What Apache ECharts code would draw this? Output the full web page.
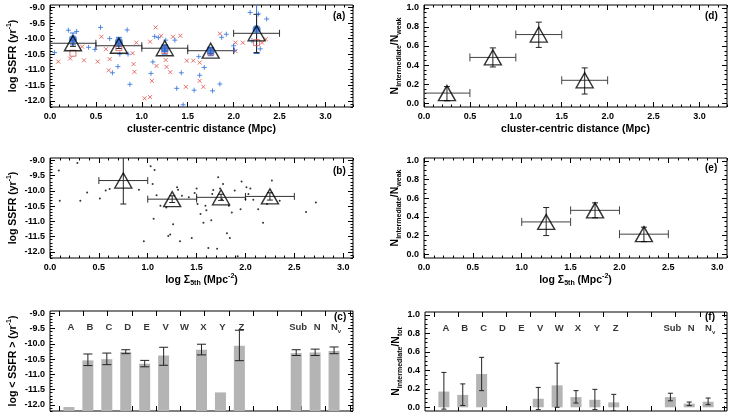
<!DOCTYPE html>
<html>
<head>
<meta charset="utf-8">
<script src="https://cdn.jsdelivr.net/npm/echarts@6/dist/echarts.min.js"></script>
<style>
html, body { margin: 0; padding: 0; background: #fff; }
#chart { width: 732px; height: 416px; }
</style>
</head>
<body>
<div id="chart"></div>
<script>
// ---- panel (a): SSFR vs cluster-centric distance ----
const aBluePts = [[0.05,-10.45],[0.2,-9.73],[0.29,-9.77],[0.42,-10.28],[0.49,-10.35],[0.55,-9.64],[0.65,-10.0],
  [0.68,-11.1],[0.74,-10.9],[0.76,-10.5],[0.84,-9.72],[0.85,-10.5],[0.87,-11.47],[1.10,-11.12],[1.12,-10.75],
  [1.14,-9.93],[1.18,-9.97],[1.26,-10.05],[1.36,-10.05],[1.38,-11.6],[1.43,-11.1],[1.45,-12.13],[1.57,-11.66],
  [1.62,-10.58],[1.63,-11.18],[1.68,-10.93],[1.77,-11.68],[1.85,-11.46],[1.87,-9.96],[1.92,-9.86],[2.0,-10.23],
  [2.01,-10.38],[2.18,-9.16],[2.2,-10.07],[2.27,-9.21],[2.29,-10.33],[2.36,-9.37]];
const aRedPts = [[0.09,-10.74],[0.22,-10.64],[0.35,-10.26],[0.37,-10.7],[0.52,-10.74],[0.56,-9.94],[0.61,-10.34],
  [0.64,-11.02],[0.65,-10.66],[0.9,-10.47],[0.91,-10.82],[0.92,-11.07],[0.94,-10.13],[1.03,-11.92],[1.09,-11.88],
  [1.09,-10.1],[1.11,-11.36],[1.15,-9.64],[1.16,-10.88],[1.21,-9.91],[1.26,-10.69],[1.27,-10.91],[1.31,-11.08],
  [1.34,-9.94],[1.42,-9.91],[1.48,-11.55],[1.49,-10.71],[1.56,-10.71],[1.63,-10.77],[1.63,-11.36],[1.67,-11.55],
  [1.85,-9.84],[2.02,-10.13],[2.02,-10.4],[2.1,-10.13],[2.31,-10.13],[2.35,-10.02]];
const aBins = [0.25, 0.75, 1.25, 1.75, 2.25];
const aBinLo = [0.0, 0.5, 1.0, 1.5, 2.0];
const aBinHi = [0.5, 1.0, 1.5, 2.0, 2.5];
const aBlueMean = [-10.02, -10.1, -10.33, -10.4, -9.7];
const aBlueLo = [-10.2, -10.25, -10.5, -10.55, -10.48];
const aBlueHi = [-9.82, -9.96, -10.2, -10.28, -8.9];
const aRedMean = [-10.47, -10.29, -10.38, -10.43, -10.13];
const aTriMean = [-10.15, -10.23, -10.31, -10.39, -9.83];
const aTriLo = [-10.25, -10.32, -10.4, -10.48, -10.45];
const aTriHi = [-10.05, -10.14, -10.22, -10.3, -9.22];

// ---- panel (b): SSFR vs local density ----
const bPts = [[0.09,-9.33],[0.28,-9.08],[0.10,-10.32],[0.31,-10.32],[0.38,-10.05],[0.51,-10.25],[0.57,-9.99],
  [0.61,-9.94],[0.91,-9.96],[0.96,-11.65],[1.03,-9.19],[1.07,-9.31],[1.05,-9.77],[1.06,-10.91],[1.09,-10.14],
  [1.13,-10.49],[1.19,-10.54],[1.21,-11.48],[1.23,-11.43],[1.26,-11.09],[1.30,-9.88],[1.31,-9.96],[1.33,-11.65],
  [1.35,-10.16],[1.42,-10.21],[1.45,-11.54],[1.48,-10.07],[1.50,-9.92],[1.51,-10.43],[1.54,-10.76],[1.57,-11.04],
  [1.59,-10.49],[1.60,-10.63],[1.62,-11.87],[1.65,-10.96],[1.66,-10.1],[1.67,-9.97],[1.71,-11.9],[1.72,-9.55],
  [1.74,-9.92],[1.76,-10.27],[1.77,-9.77],[1.81,-11.39],[1.83,-10.49],[1.84,-11.54],[1.86,-10.71],[1.89,-9.99],
  [1.92,-12.14],[1.95,-10.6],[1.96,-9.69],[2.0,-10.27],[2.01,-9.88],[2.03,-10.1],[2.05,-9.92],[2.08,-10.29],
  [2.13,-10.6],[2.18,-11.04],[2.22,-10.43],[2.27,-9.66],[2.35,-10.32],[2.62,-10.69],[2.72,-10.38]];
const bBins = [0.75, 1.25, 1.75, 2.25];
const bBinLo = [0.5, 1.0, 1.5, 2.0];
const bBinHi = [1.0, 1.5, 2.0, 2.5];
const bMean = [-9.66, -10.27, -10.21, -10.18];
const bLo = [-10.43, -10.38, -10.31, -10.3];
const bHi = [-8.9, -10.16, -10.11, -10.06];

// ---- panel (c): mean SSFR per structure ----
const cNames = ['A','B','C','D','E','V','W','X','Y','Z','Sub','N','Nv'];
const cPos = [0,1,2,3,4,5,6,7,8,9,12,13,14];
const cMean = [-12.07,-10.54,-10.5,-10.26,-10.65,-10.38,null,-10.19,-11.59,-10.06,-10.3,-10.28,-10.23];
const cLo = [null,-10.71,-10.68,-10.32,-10.75,-10.7,null,-10.36,null,-10.55,-10.38,-10.38,-10.32];
const cHi = [null,-10.33,-10.3,-10.19,-10.54,-10.11,null,-10.01,null,-9.55,-10.19,-10.17,-10.1];

// ---- panel (d): fraction vs distance ----
const dBins = [0.25, 0.75, 1.25, 1.75];
const dBinLo = [0.0, 0.5, 1.0, 1.5];
const dBinHi = [0.5, 1.0, 1.5, 2.0];
const dFrac = [0.106, 0.48, 0.72, 0.24];
const dLo = [0.025, 0.38, 0.585, 0.096];
const dHi = [0.174, 0.58, 0.85, 0.37];

// ---- panel (e): fraction vs density ----
const eBins = [1.25, 1.75, 2.25];
const eBinLo = [1.0, 1.5, 2.0];
const eBinHi = [1.5, 2.0, 2.5];
const eFrac = [0.346, 0.47, 0.215];
const eLo = [0.2, 0.39, 0.135];
const eHi = [0.5, 0.55, 0.29];

// ---- panel (f): fraction per structure ----
const fMean = [0.17,0.134,0.36,null,null,0.092,0.237,0.11,0.081,0.053,0.11,0.039,0.06];
const fLo = [-0.02,0.02,0.18,null,null,-0.025,0.0,0.046,-0.025,-0.04,0.07,0.018,0.028];
const fHi = [0.377,0.253,0.54,null,null,0.215,0.477,0.18,0.194,0.14,0.152,0.057,0.1];

// tick labels
const ssfrTicks = [-12.0,-11.5,-11.0,-10.5,-10.0,-9.5,-9.0];
const fracTicks = [0.0,0.2,0.4,0.6,0.8,1.0];
const xTicks = [0.0,0.5,1.0,1.5,2.0,2.5,3.0];

const FONT = 'Liberation Sans';
const BLUE = '#2f6fdc', RED = '#e0504a', BAR = '#b4b4b4';

function steps(from, to, step) {
  const out = [];
  for (let v = from; v <= to + 1e-9; v += step) out.push(Math.round(v * 1000) / 1000);
  return out;
}

const grids = [
  {left: 50, top: 5, width: 303, height: 102},
  {left: 50, top: 158, width: 303, height: 100},
  {left: 50, top: 311, width: 303, height: 100},
  {left: 424, top: 5, width: 303, height: 102},
  {left: 424, top: 158, width: 303, height: 100},
  {left: 425, top: 312, width: 302, height: 99}
].map(g => Object.assign(g, {show: true, borderColor: '#000', borderWidth: 1, backgroundColor: 'transparent'}));

const xAxis = [], yAxis = [];
const labStyle = {fontFamily: FONT, fontWeight: 'bold', fontSize: 9, color: '#000'};
const nameStyle = {
  fontFamily: FONT, fontWeight: 'bold', fontSize: 10.5, color: '#000', lineHeight: 14,
  rich: {
    sup: {fontFamily: FONT, fontWeight: 'bold', fontSize: 7, verticalAlign: 'top', lineHeight: 14},
    sub: {fontFamily: FONT, fontWeight: 'bold', fontSize: 7, verticalAlign: 'bottom', lineHeight: 14}
  }
};

function tickAxis(isX, g, c, pos, ticks, len, labels) {
  const ax = {
    gridIndex: g, type: 'value', min: c.min, max: c.max, position: pos,
    axisLine: {show: false, onZero: false}, splitLine: {show: false},
    axisTick: {show: true, inside: true, length: len, customValues: ticks, lineStyle: {color: '#000', width: 1}},
    axisLabel: {show: false}
  };
  if (labels) {
    ax.axisLabel = Object.assign({show: true, customValues: labels, margin: 5,
      formatter: v => v.toFixed(1)}, labStyle);
    if (c.name) {
      ax.name = c.name;
      ax.nameLocation = 'middle';
      ax.nameGap = c.nameGap;
      ax.nameTextStyle = nameStyle;
      if (!isX) ax.nameRotate = 90;
    }
  }
  (isX ? xAxis : yAxis).push(ax);
  return (isX ? xAxis : yAxis).length - 1;
}

// returns [xIndex, yIndex] of the labelled axes for grid g
function addAxes(g, xc, yc) {
  const xi = tickAxis(true, g, xc, 'bottom', xc.major, 5, xc.labels);
  tickAxis(true, g, xc, 'top', xc.major, 5, null);
  if (xc.minor) {
    tickAxis(true, g, xc, 'bottom', xc.minor, 2.5, null);
    tickAxis(true, g, xc, 'top', xc.minor, 2.5, null);
  }
  const yi = tickAxis(false, g, yc, 'left', yc.major, 5, yc.major);
  tickAxis(false, g, yc, 'right', yc.major, 5, null);
  tickAxis(false, g, yc, 'left', yc.minor, 2.5, null);
  tickAxis(false, g, yc, 'right', yc.minor, 2.5, null);
  return [xi, yi];
}

const ssfrName = 'log SSFR (yr{sup|-1})';
const distName = 'cluster-centric distance (Mpc)';
const sigName = 'log Σ{sub|5th} (Mpc{sup|-2})';
const weakName = 'N{sub|intermediate}/N{sub|weak}';
const ySsfr = (name) => ({min: -12.2, max: -8.92, major: ssfrTicks, minor: steps(-12.2, -8.92, 0.1), name: name, nameGap: 30});
const yFrac = (name) => ({min: -0.04, max: 1.03, major: fracTicks, minor: steps(0, 1.03, 0.05), name: name, nameGap: 20});
const xDist = (max, name, gap) => ({min: 0, max: max, major: xTicks, minor: steps(0, max, 0.1), labels: xTicks, name: name, nameGap: gap});
const structTicks = steps(0, 12, 1).map(k => Math.round((-0.52 + 1.28 * k) * 100) / 100);
const xStruct = {min: -1, max: 15, major: structTicks, labels: null};

const axA = addAxes(0, xDist(3.3, distName, 14), ySsfr(ssfrName));
const axB = addAxes(1, xDist(3.1, sigName, 13), ySsfr(ssfrName));
const axC = addAxes(2, xStruct, ySsfr('log < SSFR > (yr{sup|-1})'));
const axD = addAxes(3, xDist(3.3, distName, 14), yFrac(weakName));
const axE = addAxes(4, xDist(3.1, sigName, 13), yFrac(weakName));
const axF = addAxes(5, xStruct, yFrac('N{sub|intermediate}/N{sub|tot}'));

// ---- custom renderers ----
function vErr(color, cap, lw) {
  return function (params, api) {
    const x = api.value(0);
    const p1 = api.coord([x, api.value(1)]), p2 = api.coord([x, api.value(2)]);
    const st = {stroke: color, lineWidth: lw};
    return {type: 'group', children: [
      {type: 'line', shape: {x1: p1[0], y1: p1[1], x2: p2[0], y2: p2[1]}, style: st},
      {type: 'line', shape: {x1: p1[0] - cap, y1: p1[1], x2: p1[0] + cap, y2: p1[1]}, style: st},
      {type: 'line', shape: {x1: p2[0] - cap, y1: p2[1], x2: p2[0] + cap, y2: p2[1]}, style: st}
    ]};
  };
}
function hErr(color, cap, lw) {
  return function (params, api) {
    const y = api.value(2);
    const p1 = api.coord([api.value(0), y]), p2 = api.coord([api.value(1), y]);
    const st = {stroke: color, lineWidth: lw};
    return {type: 'group', children: [
      {type: 'line', shape: {x1: p1[0], y1: p1[1], x2: p2[0], y2: p2[1]}, style: st},
      {type: 'line', shape: {x1: p1[0], y1: p1[1] - cap, x2: p1[0], y2: p1[1] + cap}, style: st},
      {type: 'line', shape: {x1: p2[0], y1: p2[1] - cap, x2: p2[0], y2: p2[1] + cap}, style: st}
    ]};
  };
}
function barRect(base, w) {
  return function (params, api) {
    const x = api.value(0);
    const top = api.coord([x, api.value(1)]), bot = api.coord([x, base]);
    return {type: 'rect', shape: {x: top[0] - w / 2, y: top[1], width: w, height: bot[1] - top[1]},
      style: {fill: BAR}};
  };
}

const zip3 = (a, b, c) => a.map((v, i) => [v, b[i], c[i]]);
const PLUS = 'path://M5,0L5,10M0,5L10,5';
const CROSS = 'path://M0,0L10,10M10,0L0,10';

function onAxes(ax, s) { return Object.assign({xAxisIndex: ax[0], yAxisIndex: ax[1]}, s); }
function custom(ax, fn, data) {
  return onAxes(ax, {type: 'custom', renderItem: fn, data: data, clip: true, silent: true});
}
function tri(ax, xs, ys, size) {
  return onAxes(ax, {type: 'scatter', symbol: 'triangle', symbolSize: size, data: xs.map((x, i) => [x, ys[i]]),
    itemStyle: {color: 'transparent', borderColor: '#000', borderWidth: 1.4}, z: 5});
}
function labels(ax, yv) {
  return onAxes(ax, {type: 'scatter', symbolSize: 1, itemStyle: {color: 'transparent'},
    data: cPos.map(p => [p, yv]),
    label: {show: true, position: 'inside', offset: [2, 0],
      formatter: p => cNames[p.dataIndex] === 'Nv' ? 'N{s|v}' : cNames[p.dataIndex],
      fontFamily: FONT, fontWeight: 'bold', fontSize: 9.5, color: '#000',
      rich: {s: {fontFamily: FONT, fontWeight: 'bold', fontSize: 6, verticalAlign: 'bottom', lineHeight: 14}}}});
}

const series = [
  // (a)
  onAxes(axA, {type: 'scatter', symbol: CROSS, symbolSize: 4, data: aRedPts,
    itemStyle: {color: 'transparent', borderColor: RED, borderWidth: 1}}),
  onAxes(axA, {type: 'scatter', symbol: PLUS, symbolSize: 5, data: aBluePts,
    itemStyle: {color: 'transparent', borderColor: BLUE, borderWidth: 1}}),
  custom(axA, hErr('#333', 3.5, 1), aBinLo.map((v, i) => [v, aBinHi[i], aTriMean[i]])),
  custom(axA, vErr(BLUE, 3, 1), zip3(aBins, aBlueLo, aBlueHi)),
  custom(axA, vErr('#222', 3, 1), zip3(aBins, aTriLo, aTriHi)),
  onAxes(axA, {type: 'scatter', symbol: 'rect', symbolSize: 6, data: aBins.map((x, i) => [x, aRedMean[i]]),
    itemStyle: {color: 'transparent', borderColor: RED, borderWidth: 1}}),
  onAxes(axA, {type: 'scatter', symbol: 'circle', symbolSize: 8, data: aBins.map((x, i) => [x, aBlueMean[i]]),
    itemStyle: {color: BLUE}}),
  tri(axA, aBins, aTriMean, [17, 15]),
  // (b)
  onAxes(axB, {type: 'scatter', symbol: 'circle', symbolSize: 2, data: bPts, itemStyle: {color: '#000'}}),
  custom(axB, hErr('#333', 3.5, 1), bBinLo.map((v, i) => [v, bBinHi[i], bMean[i]])),
  custom(axB, vErr('#222', 3, 1), zip3(bBins, bLo, bHi)),
  tri(axB, bBins, bMean, [17, 15]),
  // (c)
  custom(axC, barRect(-12.2, 11), cPos.map((x, i) => [x, cMean[i]]).filter(d => d[1] !== null)),
  custom(axC, vErr('#222', 4.5, 1), zip3(cPos, cLo, cHi).filter(d => d[1] !== null)),
  labels(axC, -9.45),
  // (d)
  custom(axD, hErr('#444', 4, 1), dBinLo.map((v, i) => [v, dBinHi[i], dFrac[i]])),
  custom(axD, vErr('#222', 3, 1), zip3(dBins, dLo, dHi)),
  tri(axD, dBins, dFrac, [17, 15]),
  // (e)
  custom(axE, hErr('#444', 4, 1), eBinLo.map((v, i) => [v, eBinHi[i], eFrac[i]])),
  custom(axE, vErr('#222', 3, 1), zip3(eBins, eLo, eHi)),
  tri(axE, eBins, eFrac, [17, 15]),
  // (f)
  custom(axF, barRect(0, 11), cPos.map((x, i) => [x, fMean[i]]).filter(d => d[1] !== null)),
  custom(axF, vErr('#222', 2.5, 1), zip3(cPos, fLo, fHi).filter(d => d[1] !== null)),
  labels(axF, 0.85)
];

const panelTag = (txt, x, y) => ({type: 'text', left: x, top: y,
  style: {text: txt, font: 'bold 10px "Liberation Sans"', fill: '#000'}, z: 10});

const chart = echarts.init(document.getElementById('chart'));
chart.setOption({
  animation: false,
  backgroundColor: '#fff',
  grid: grids,
  xAxis: xAxis,
  yAxis: yAxis,
  series: series,
  graphic: [
    panelTag('(a)', 333, 11), panelTag('(b)', 333, 166), panelTag('(c)', 334, 312),
    panelTag('(d)', 705, 11), panelTag('(e)', 705, 163), panelTag('(f)', 705, 312)
  ]
});
</script>
</body>
</html>
